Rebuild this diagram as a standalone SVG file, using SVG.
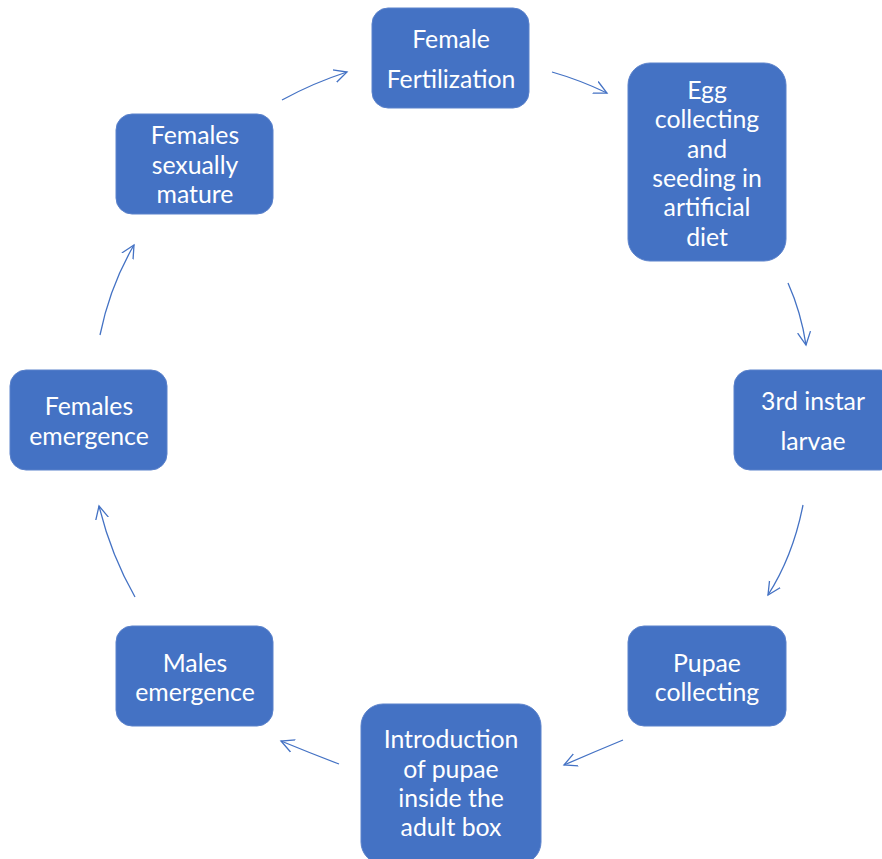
<svg xmlns="http://www.w3.org/2000/svg" width="882" height="859" viewBox="0 0 882 859">
<defs>
<style>
.box{fill:#4472C4;stroke:#5B82CB;stroke-width:1}
.t{font-family:Lato,"Open Sans",sans-serif;font-size:24.8px;fill:#fff;text-anchor:middle;dominant-baseline:central}
.c{fill:none;stroke:#4472C4;stroke-width:1.3}
</style>
<marker id="ah" markerUnits="userSpaceOnUse" markerWidth="16" markerHeight="16" refX="13" refY="7" orient="auto" viewBox="0 0 16 14">
<path d="M0,0.5 L13,7 L0,13.5" fill="none" stroke="#4472C4" stroke-width="1.3"/>
</marker>
</defs>
<rect width="882" height="859" fill="#fff"/>
<g id="connectors">
<path class="c" d="M552,72 Q580,80 607,93" marker-end="url(#ah)"/>
<path class="c" d="M788,283 Q801,312 806,345" marker-end="url(#ah)"/>
<path class="c" d="M803,505 Q793,556 768,595" marker-end="url(#ah)"/>
<path class="c" d="M623,740 Q594,752 564,765" marker-end="url(#ah)"/>
<path class="c" d="M339,764 Q310,753 281,741" marker-end="url(#ah)"/>
<path class="c" d="M135,597 Q111,555 99,506" marker-end="url(#ah)"/>
<path class="c" d="M100,335 Q110,286 134,245" marker-end="url(#ah)"/>
<path class="c" d="M282,100 Q313,83 347,72" marker-end="url(#ah)"/>
</g>
<g id="n1"><rect class="box" x="372" y="8" width="157" height="100" rx="16"/>
<text class="t" x="451" y="38">Female</text><text class="t" x="451" y="78">Fertilization</text></g>
<g id="n2"><rect class="box" x="628" y="63" width="158" height="198" rx="22"/>
<text class="t" x="707" y="89">Egg</text><text class="t" x="707" y="118">collecting</text><text class="t" x="707" y="148">and</text><text class="t" x="707" y="177">seeding in</text><text class="t" x="707" y="206">artificial</text><text class="t" x="707" y="236">diet</text></g>
<g id="n3"><rect class="box" x="734" y="370" width="162" height="100" rx="16"/>
<text class="t" x="813" y="400">3rd instar</text><text class="t" x="813" y="440">larvae</text></g>
<g id="n4"><rect class="box" x="628" y="626" width="158" height="100" rx="16"/>
<text class="t" x="707" y="662">Pupae</text><text class="t" x="707" y="691">collecting</text></g>
<g id="n5"><rect class="box" x="361" y="704" width="180" height="160" rx="22"/>
<text class="t" x="451" y="738">Introduction</text><text class="t" x="451" y="768">of pupae</text><text class="t" x="451" y="797">inside the</text><text class="t" x="451" y="826">adult box</text></g>
<g id="n6"><rect class="box" x="116" y="626" width="157" height="100" rx="16"/>
<text class="t" x="195" y="662">Males</text><text class="t" x="195" y="691">emergence</text></g>
<g id="n7"><rect class="box" x="10" y="370" width="157" height="100" rx="16"/>
<text class="t" x="89" y="405">Females</text><text class="t" x="89" y="435">emergence</text></g>
<g id="n8"><rect class="box" x="116" y="114" width="157" height="100" rx="16"/>
<text class="t" x="195" y="134">Females</text><text class="t" x="195" y="164">sexually</text><text class="t" x="195" y="193">mature</text></g>
</svg>
